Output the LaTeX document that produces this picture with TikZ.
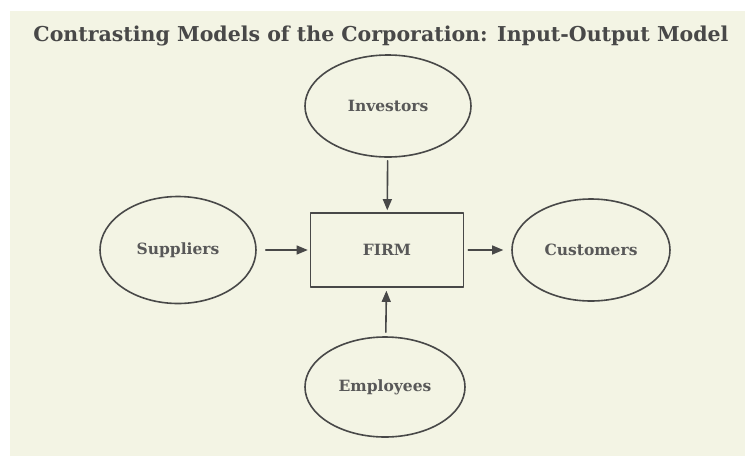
\documentclass[tikz,border=0pt]{standalone}
\usepackage{fontspec}
\setmainfont{DejaVu Serif}
\usetikzlibrary{arrows,shapes.geometric}
\definecolor{paper}{RGB}{243,244,228}
\definecolor{ink}{RGB}{72,72,72}
\definecolor{txt}{RGB}{88,88,88}
\tikzset{
  party/.style={draw=ink,line width=1.6pt,ellipse,inner sep=0pt,font=\bfseries\fontsize{15.5}{18}\selectfont,text=txt},
  firmbox/.style={draw=ink,line width=1.6pt,rectangle,inner sep=0pt,font=\bfseries\fontsize{15.5}{18}\selectfont,text=txt},
  flow/.style={->,draw=ink,line width=1.6pt}
}
\begin{document}
\begin{tikzpicture}[line cap=round,line join=round,>=triangle 45,x=1pt,y=-1pt]
                \useasboundingbox (0,0) rectangle (745,456);
                \fill[white] (0,0) rectangle (745,456);
                \fill[paper] (10,11) rectangle (745,456);
                \node[font=\bfseries\fontsize{20.5}{24}\selectfont,text=ink] (title) at (381,36) {Contrasting Models of the Corporation: Input-Output Model};
                \node[firmbox,minimum width=153pt,minimum height=74pt] (firm) at (387,250) {FIRM};
                \node[party,minimum width=166pt,minimum height=102pt] (investors) at (388,106) {Investors};
                \node[party,minimum width=156pt,minimum height=107pt] (suppliers) at (178,250) {Suppliers};
                \node[party,minimum width=158pt,minimum height=102pt] (customers) at (591,250) {Customers};
                \node[party,minimum width=160pt,minimum height=100pt] (employees) at (385,387) {Employees};
                \draw[flow,shorten <=3pt,shorten >=2pt] (investors) -- (firm);
                \draw[flow,shorten <=9pt,shorten >=2pt] (suppliers.east) -- (firm.west);
                \draw[flow,shorten <=4pt,shorten >=8pt] (firm.east) -- (customers.west);
                \draw[flow,shorten <=4pt,shorten >=3pt] (employees) -- (firm);
\end{tikzpicture}
\end{document}
